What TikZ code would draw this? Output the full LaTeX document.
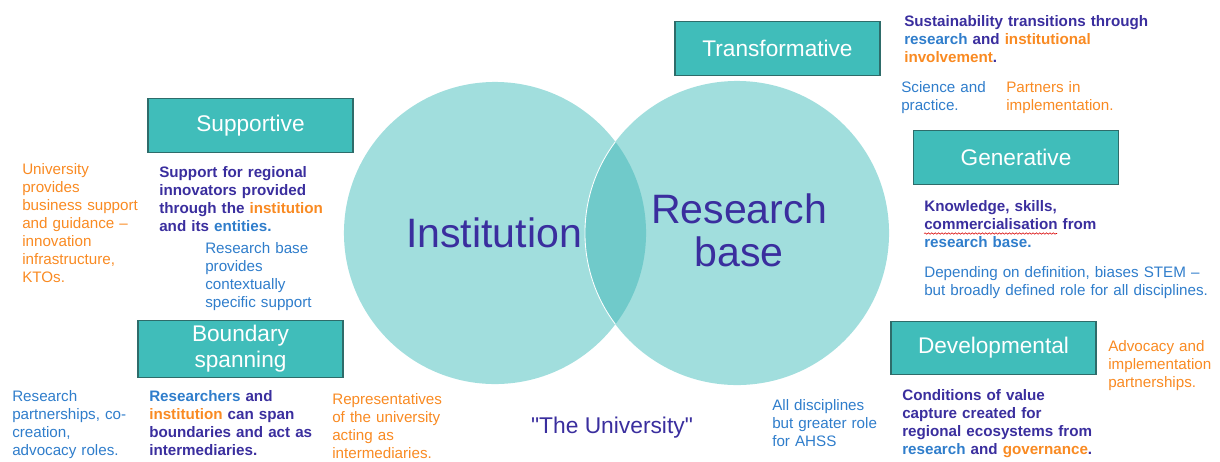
\documentclass[tikz,border=0pt]{standalone}
\usepackage{fontspec}
\setmainfont{Liberation Sans}
\newfontfamily\plainquotes{Liberation Sans}
\usetikzlibrary{positioning}
\usetikzlibrary{decorations.pathmorphing}

\definecolor{tealbox}{HTML}{40BDBA}
\definecolor{tealedge}{HTML}{2E6C6A}
\definecolor{circfill}{HTML}{A1DEDD}
\definecolor{lensfill}{HTML}{70CACA}
\definecolor{navy}{HTML}{3A2E9E}
\definecolor{orng}{HTML}{F98A22}
\definecolor{blu}{HTML}{2F7DCB}

\newcommand{\nv}[1]{\textcolor{navy}{#1}}
\newcommand{\og}[1]{\textcolor{orng}{#1}}
\newcommand{\bl}[1]{\textcolor{blu}{#1}}

\begin{document}
\begin{tikzpicture}[
    x=0.025cm, y=-0.025cm,
    rolebox/.style={draw=tealedge, line width=0.8pt, fill=tealbox, text=white,
      minimum width=5.125cm, minimum height=1.33cm, align=center,
      font=\fontsize{16.1}{18.5}\selectfont},
    note/.style={anchor=base west, inner sep=0pt, text width=8cm, align=left,
      font=\fontsize{10.8}{12.8}\selectfont},
    boldnote/.style={note, font=\fontsize{10.8}{12.8}\selectfont\bfseries},
    squiggle/.style={draw=red!85!black, line width=0.4pt,
      decorate, decoration={snake, amplitude=0.5pt, segment length=2.4pt}}
    ]

    \useasboundingbox (0,0) rectangle (1220,461);

    % the two sets and their overlap
    \fill[circfill] (495,233) circle[radius=3.775cm];
    \fill[circfill] (737,233) circle[radius=3.8cm];
    \begin{scope}
      \clip (495,233) circle[radius=3.775cm];
      \fill[lensfill] (737,233) circle[radius=3.8cm];
      \draw[white, line width=0.6pt] (737,233) circle[radius=3.8cm];
    \end{scope}

    \node[anchor=base, inner sep=0pt, text=navy, font=\fontsize{29.2}{30.6}\selectfont]
      (inst) at (494,247) {Institution};
    \node[anchor=base, inner sep=0pt, text=navy, text width=6cm, align=center,
      font=\fontsize{29.2}{30.6}\selectfont]
      (rbase) at (739,223) {Research\\base};

    \node[anchor=base, inner sep=0pt, text=navy, font=\plainquotes\fontsize{16.2}{18}\selectfont]
      (univ) at (612,433) {"The University"};

    % role boxes
    \node[rolebox] (transf) at (777.5,48.5) {Transformative};
    \node[rolebox] (supp) at (250.5,125.5) {Supportive};
    \node[rolebox] (gen) at (1016,157.5) {Generative};
    \node[rolebox] (bound) at (240.5,349) {Boundary\\spanning};
    \node[rolebox] (devel) at (993.5,348) {Developmental};

    % transformative
    \node[boldnote] (transfmain) at (904,26)
      {\nv{Sustainability transitions through}\\
       \bl{research} \nv{and} \og{institutional}\\
       \og{involvement}\nv{.}};
    \node[note, text=blu] (transfl) at (901,92) {Science and\\practice.};
    \node[note, text=orng] (transfr) at (1006,92) {Partners in\\implementation.};

    % supportive
    \node[boldnote] (suppmain) at (159,177)
      {\nv{Support for regional}\\
       \nv{innovators provided}\\
       \nv{through the} \og{institution}\\
       \nv{and its} \bl{entities.}};
    \node[note, text=blu] (suppr) at (205,253)
      {Research base\\provides\\contextually\\specific support};
    \node[note, text=orng] (suppl) at (22,174)
      {University\\provides\\business support\\and guidance --\\innovation\\infrastructure,\\KTOs.};

    % generative
    \node[boldnote] (genmain) at (924,211)
      {\nv{Knowledge, skills,}\\
       \nv{commercialisation from}\\
       \bl{research base.}};
    \node[note, text=blu] (genr) at (924,277)
      {Depending on definition, biases STEM --\\but broadly defined role for all disciplines.};
    \draw[squiggle] (924,233.5) -- (1057,233.5);

    % boundary spanning
    \node[note, text=blu] (boundl) at (12,401)
      {Research\\partnerships, co-\\creation,\\advocacy roles.};
    \node[boldnote] (boundmain) at (149,401)
      {\bl{Researchers} \nv{and}\\
       \og{institution} \nv{can span}\\
       \nv{boundaries and act as}\\
       \nv{intermediaries.}};
    \node[note, text=orng] (boundr) at (332,404)
      {Representatives\\of the university\\acting as\\intermediaries.};

    % developmental
    \node[note, text=orng] (develr) at (1108,351)
      {Advocacy and\\implementation\\partnerships.};
    \node[note, text=blu] (devell) at (772,410)
      {All disciplines\\but greater role\\for AHSS};
    \node[boldnote] (develmain) at (902,400)
      {\nv{Conditions of value}\\
       \nv{capture created for}\\
       \nv{regional ecosystems from}\\
       \bl{research} \nv{and} \og{governance}\nv{.}};

\end{tikzpicture}
\end{document}
